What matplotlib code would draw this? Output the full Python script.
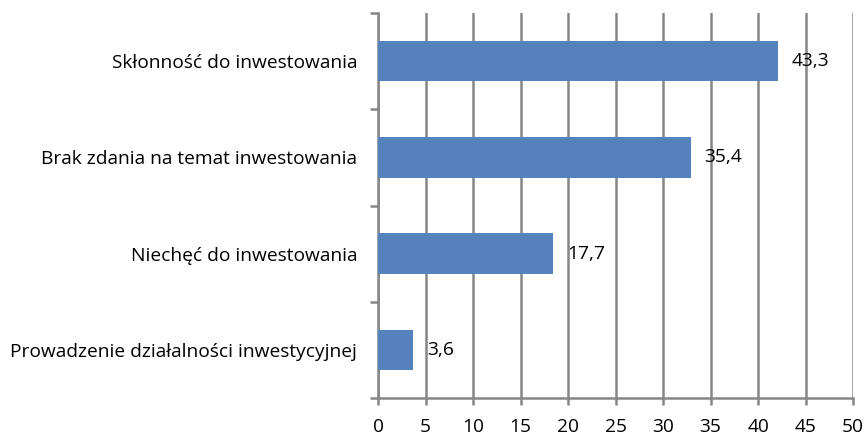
import matplotlib
matplotlib.use("Agg")
import matplotlib.pyplot as plt
import numpy as np

plt.rcParams["font.family"] = ["Open Sans", "DejaVu Sans"]

categories = [
    "Prowadzenie działalności inwestycyjnej",
    "Niechęć do inwestowania",
    "Brak zdania na temat inwestowania",
    "Skłonność do inwestowania",
]
# bar lengths as drawn in the source chart, and the printed labels
bar_lengths = [3.7, 18.4, 32.9, 42.1]
value_labels = ["3,6", "17,7", "35,4", "43,3"]
x_ticks = list(range(0, 51, 5))

grid_color = "#868686"
bar_color = "#5581BD"
fs = 13.8

fig = plt.figure(figsize=(8.67, 4.38), dpi=100)
ax = fig.add_axes([0.436, 0.0913, 0.548, 0.879])

pos = np.arange(len(categories))
bars = ax.barh(pos, bar_lengths, height=0.42, color=bar_color, zorder=3)

for b, lab in zip(bars, value_labels):
    ax.annotate(lab, (b.get_width(), b.get_y() + b.get_height() / 2),
                xytext=(10, 0), textcoords="offset points",
                va="center", ha="left", fontsize=fs, color="black", zorder=4)

ax.set_xlim(0, 50)
ax.set_ylim(-0.5, len(categories) - 0.5)
ax.set_xticks(x_ticks)
ax.set_xticklabels([str(t) for t in x_ticks], fontsize=fs)
ax.set_yticks(pos)
ax.set_yticklabels(categories, fontsize=fs)
ax.set_yticks(np.arange(-0.5, len(categories), 1.0), minor=True)

ax.xaxis.grid(True, color=grid_color, linewidth=1.8, zorder=1)
ax.set_axisbelow(True)

for s in ["top", "right"]:
    ax.spines[s].set_visible(False)
for s in ["left", "bottom"]:
    ax.spines[s].set_color(grid_color)
    ax.spines[s].set_linewidth(1.8)

ax.tick_params(axis="y", which="major", length=0, pad=15)
ax.tick_params(axis="y", which="minor", length=6, width=1.8, color=grid_color)
ax.tick_params(axis="x", which="major", length=5, width=1.8, color=grid_color, pad=9.5)

fig.savefig("out.png", dpi=100)
